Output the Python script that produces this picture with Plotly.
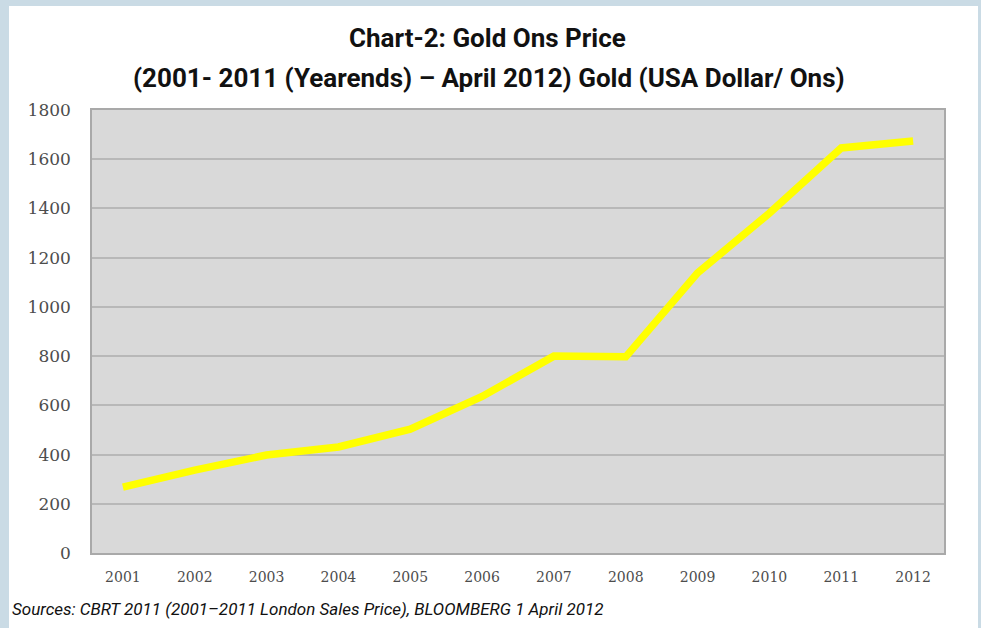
import plotly.graph_objects as go

# Gold ounce price, year-ends 2001-2011 and April 2012 (USD per ounce)
years = [2001, 2002, 2003, 2004, 2005, 2006, 2007, 2008, 2009, 2010, 2011, 2012]
prices = [268, 337, 398, 431, 503, 636, 800, 797, 1138, 1381, 1646, 1674]
y_ticks = [0, 200, 400, 600, 800, 1000, 1200, 1400, 1600, 1800]

title_line1 = "Chart-2: Gold Ons Price"
title_line2 = "(2001- 2011 (Yearends) \u2013 April 2012) Gold (USA Dollar/ Ons)"
source_text = "Sources: CBRT 2011 (2001\u20132011 London Sales Price), BLOOMBERG 1 April 2012"

W, H = 981, 628
L, R, T, B = 92, 944, 110, 553          # plot area edges in pixels
FRAME = "#cadbe5"


def px_x(p):
    return (p - L) / (R - L)


def px_y(p):
    return (B - p) / (B - T)


fig = go.Figure()
fig.add_trace(go.Scatter(
    x=years, y=prices, mode="lines",
    line=dict(color="#ffff00", width=7.5),
    hoverinfo="x+y", showlegend=False,
))

shapes = [
    # light blue frame around the page
    dict(type="rect", xref="paper", yref="paper", layer="above",
         x0=px_x(0), x1=px_x(9), y0=px_y(H), y1=px_y(0),
         line=dict(width=0), fillcolor=FRAME),
    dict(type="rect", xref="paper", yref="paper", layer="above",
         x0=px_x(0), x1=px_x(W), y0=px_y(6), y1=px_y(0),
         line=dict(width=0), fillcolor=FRAME),
    dict(type="rect", xref="paper", yref="paper", layer="above",
         x0=px_x(978), x1=px_x(W), y0=px_y(H), y1=px_y(0),
         line=dict(width=0), fillcolor=FRAME),
]

title_font = dict(family="Roboto, sans-serif", size=26, color="#111111")
annotations = [
    dict(text="<b>" + title_line1 + "</b>", xref="paper", yref="paper",
         x=px_x(487), y=px_y(38), xanchor="center", yanchor="middle",
         showarrow=False, font=title_font),
    dict(text="<b>" + title_line2 + "</b>", xref="paper", yref="paper",
         x=px_x(489), y=px_y(78), xanchor="center", yanchor="middle",
         showarrow=False, font=title_font),
    dict(text="<i>" + source_text + "</i>", xref="paper", yref="paper",
         x=px_x(10), y=px_y(609), xanchor="left", yanchor="middle",
         showarrow=False,
         font=dict(family="Roboto, sans-serif", size=17, color="#111111")),
]

fig.update_layout(
    width=W, height=H,
    margin=dict(l=L, r=W - R, t=T, b=H - B, pad=0),
    paper_bgcolor="#ffffff",
    plot_bgcolor="#d9d9d9",
    shapes=shapes,
    annotations=annotations,
    showlegend=False,
)

fig.update_xaxes(
    range=[2000.57, 2012.43],
    tickmode="array", tickvals=years, ticktext=[str(y) for y in years],
    showgrid=False, zeroline=False,
    showline=True, linecolor="#a9a9a9", linewidth=1.5, mirror=True,
    ticks="", ticklabelstandoff=10,
    tickfont=dict(family="DejaVu Serif, serif", size=14, color="#4d4d4d"),
)
fig.update_yaxes(
    range=[0, 1800],
    tickmode="array", tickvals=y_ticks,
    showgrid=True, gridcolor="#b8b8b8", gridwidth=2,
    zeroline=False,
    showline=True, linecolor="#a9a9a9", linewidth=1.5, mirror=True,
    ticks="", ticklabelstandoff=16,
    tickfont=dict(family="DejaVu Serif, serif", size=17, color="#4d4d4d"),
)

fig.write_html("out.html")
